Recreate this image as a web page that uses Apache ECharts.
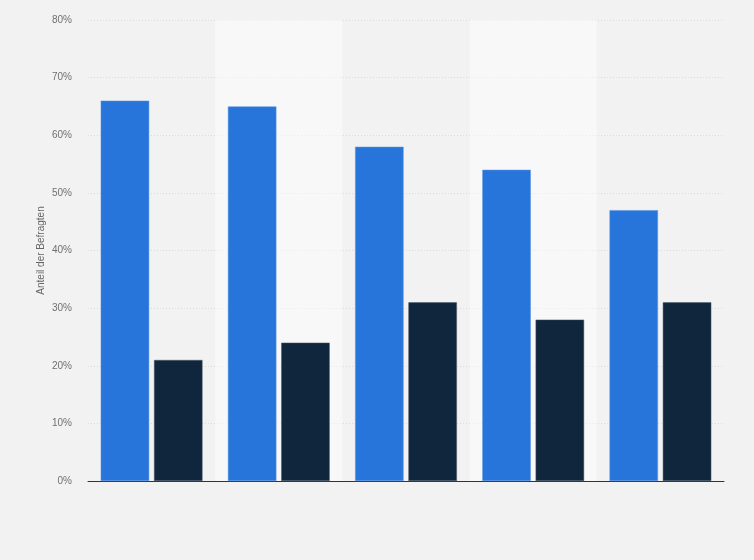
<!DOCTYPE html>
<html>
<head>
<meta charset="utf-8">
<script src="https://cdn.jsdelivr.net/npm/echarts@6/dist/echarts.min.js"></script>
<style>
html,body{margin:0;padding:0;background:#f2f2f2;}
#chart{width:754px;height:560px;}
</style>
</head>
<body>
<div id="chart"></div>
<script>
const categories = ['Gruppe 1', 'Gruppe 2', 'Gruppe 3', 'Gruppe 4', 'Gruppe 5'];
const seriesNames = ['Ja', 'Nein'];
const valuesA = [66, 65, 58, 54, 47];
const valuesB = [21, 24, 31, 28, 31];
const yTicks = [0, 10, 20, 30, 40, 50, 60, 70, 80];

const chart = echarts.init(document.getElementById('chart'), null, {renderer: 'canvas'});
chart.setOption({
  backgroundColor: '#f2f2f2',
  animation: false,
  grid: {left: 88, right: 30, top: 20, bottom: 79, containLabel: false},
  xAxis: {
    type: 'category',
    data: categories,
    axisLine: {show: true, lineStyle: {color: '#333', width: 1}},
    axisTick: {show: false},
    axisLabel: {show: false},
    splitArea: {show: true, areaStyle: {color: ['rgba(0,0,0,0)', 'rgba(255,255,255,0.45)']}}
  },
  yAxis: {
    type: 'value',
    min: yTicks[0],
    max: yTicks[yTicks.length - 1],
    interval: 10,
    name: 'Anteil der Befragten',
    nameLocation: 'middle',
    nameGap: 42,
    nameMoveOverlap: false,
    nameTextStyle: {color: '#666', fontSize: 10, fontFamily: 'Liberation Sans, Arial, sans-serif'},
    axisLine: {show: false},
    axisTick: {show: false},
    axisLabel: {color: '#707070', fontSize: 10, margin: 16, fontFamily: 'Liberation Sans, Arial, sans-serif', formatter: '{value}%'},
    splitLine: {show: true, lineStyle: {color: '#dadada', type: [1, 2], width: 1}}
  },
  series: [
    {
      name: seriesNames[0], type: 'bar', data: valuesA,
      barGap: '10%', barCategoryGap: '20%',
      itemStyle: {color: '#2775db', borderColor: '#5a93e3', borderWidth: 0.5}
    },
    {
      name: seriesNames[1], type: 'bar', data: valuesB,
      itemStyle: {color: '#10263d', borderColor: '#4a5868', borderWidth: 0.5}
    }
  ]
});
</script>
</body>
</html>
